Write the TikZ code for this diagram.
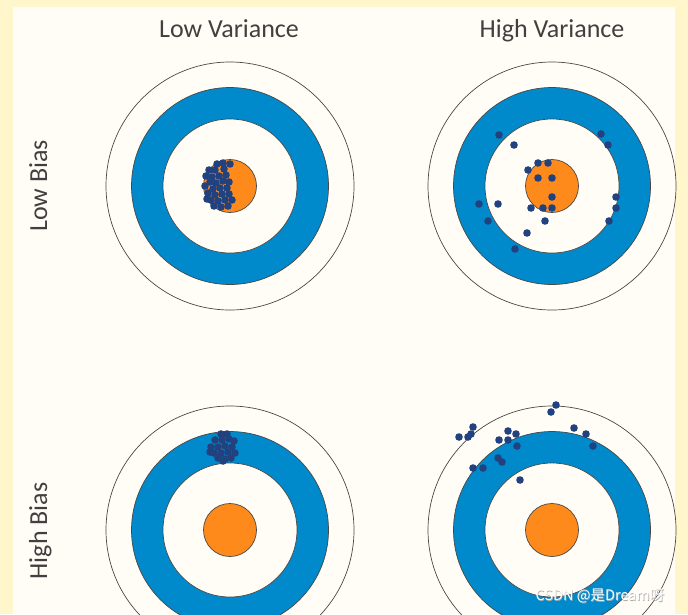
\documentclass[tikz,border=0pt]{standalone}
\usepackage{fontspec}
\setmainfont{Carlito}
\newfontfamily\cjkfont{Noto Sans CJK SC}
\usetikzlibrary{positioning}

\definecolor{frameyellow}{HTML}{FFF6CC}
\definecolor{paper}{HTML}{FFFDF5}
\definecolor{ringblue}{HTML}{0089CB}
\definecolor{bullorange}{HTML}{FF8A1C}
\definecolor{hitblue}{HTML}{22427F}
\definecolor{edgegray}{HTML}{484848}
\definecolor{labelgray}{HTML}{404040}

\begin{document}
\begin{tikzpicture}[
  x=1pt, y=-1pt,
  every node/.style={font=\fontsize{26}{30}\selectfont, text=labelgray},
  header/.style={anchor=base, inner sep=0pt},
  sidehead/.style={anchor=base, inner sep=0pt, rotate=90},
  ring/.style={draw=edgegray, line width=0.7pt},
  hit/.style={fill=hitblue, draw=none},
  stamp/.style={font=\cjkfont\fontsize{14.5}{16}\selectfont, inner sep=0pt}]

\useasboundingbox (0,0) rectangle (688,614);
\fill[frameyellow] (0,0) rectangle (688,614);
\fill[paper] (13,7) rectangle (675,614);

%% target centres
\coordinate (tl) at (230,186);
\coordinate (tr) at (552,186);
\coordinate (bl) at (230,530);
\coordinate (br) at (552,530);

\foreach \c in {tl,tr,bl,br}{
  \draw[ring, fill=paper]      (\c) circle[radius=124];
  \draw[ring, fill=ringblue]   (\c) circle[radius=98.5];
  \draw[ring, fill=paper]      (\c) circle[radius=67];
  \draw[ring, fill=bullorange] (\c) circle[radius=26.5];
}

%% column and row headings
\node[header]   (lowvar)   at (229,37) {Low Variance};
\node[header]   (highvar)  at (552,37) {High Variance};
\node[sidehead] (lowbias)  at (47,186) {Low Bias};
\node[sidehead] (highbias) at (47,531) {High Bias};

%% low bias, low variance
\foreach \x/\y in {217/164,223/163,230/164,209/170,215/170,224/169,
    206/176,212/177,219/176,226/175,210/182,216/183,223/181,229/182,
    205/186,213/189,220/188,227/188,208/193,215/195,222/194,229/194,
    211/200,218/201,225/200,214/206,221/207,228/206,207/199,232/200}
  \fill[hit] (\x,\y) circle[radius=3.8];

%% low bias, high variance
\foreach \x/\y in {499/135,514/145,601/134,608/145,538/163,548/163,
    528/170,538/178,552/178,552/197,479/204,498/204,531/208,543/208,
    552/208,616/197,616/208,609/221,488/221,545/221,527/233,515/249}
  \fill[hit] (\x,\y) circle[radius=3.8];

%% high bias, low variance
\foreach \x/\y in {221/434,227/434,215/440,222/440,229/439,234/441,
    211/447,218/447,225/446,232/447,214/453,221/453,228/452,235/453,
    218/458,225/459,231/458,210/452,223/461}
  \fill[hit] (\x,\y) circle[radius=3.8];

%% high bias, high variance
\foreach \x/\y in {556/405,551/412,459/437,468/437,471/434,473/427,
    508/431,516/434,499/440,508/440,517/446,574/428,586/434,593/446,
    498/458,502/462,473/468,483/468,520/480}
  \fill[hit] (\x,\y) circle[radius=3.8];

%% watermark
\node[stamp, text=gray!70] (wmshade) at (600.6,596.6) {CSDN @是Dream呀};
\node[stamp, text=white]   (wm)      at (600,596)     {CSDN @是Dream呀};
\end{tikzpicture}
\end{document}
